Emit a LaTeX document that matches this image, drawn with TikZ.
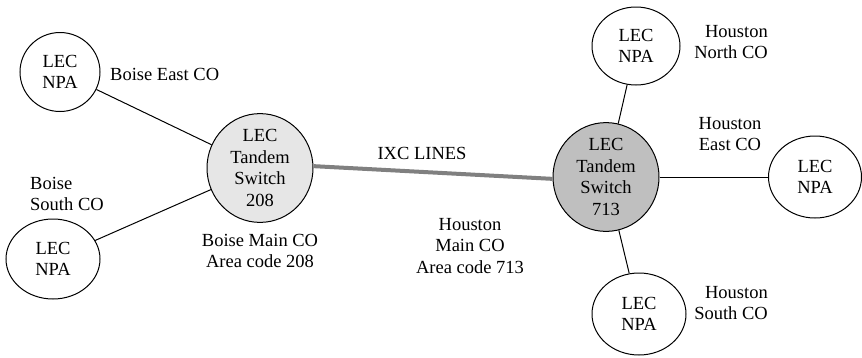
\documentclass[tikz,border=0pt]{standalone}
\usepackage{fontspec}
\setmainfont{Liberation Serif}
\usetikzlibrary{shapes.geometric}
\definecolor{boisefill}{HTML}{E6E6E6}
\definecolor{houfill}{HTML}{BFBFBF}
\definecolor{ixcgray}{HTML}{808080}
\begin{document}
\begin{tikzpicture}[x=1pt,y=-1pt,
  txt/.style={font=\fontsize{18.5}{21.5}\selectfont},
  npa/.style={ellipse,draw=black,line width=1pt,inner sep=0pt,align=center,txt},
  tandem/.style={ellipse,draw=black,line width=1pt,inner sep=0pt,align=center,txt},
  lbl/.style={inner sep=0pt,txt},
  link/.style={draw=black,line width=1pt},
  ixc/.style={draw=ixcgray,line width=4pt}
]
\useasboundingbox (0,0) rectangle (862,357);
% Boise
\node[npa,minimum width=80pt,minimum height=79pt] (bE) at (60,72) {LEC\\NPA};
\node[npa,minimum width=94pt,minimum height=80pt] (bS) at (53,259) {LEC\\NPA};
\node[tandem,fill=boisefill,minimum width=106pt,minimum height=101pt] (b208) at (260,168) {LEC\\Tandem\\Switch\\208};
% Houston
\node[tandem,fill=houfill,minimum width=106pt,minimum height=105pt] (h713) at (606,177) {LEC\\Tandem\\Switch\\713};
\node[npa,minimum width=88pt,minimum height=78pt] (hN) at (636,46) {LEC\\NPA};
\node[npa,minimum width=93pt,minimum height=82pt] (hE) at (815,177) {LEC\\NPA};
\node[npa,minimum width=94pt,minimum height=82pt] (hS) at (639,314) {LEC\\NPA};
% connectors
\draw[link] (bE) -- (b208);
\draw[link] (bS) -- (b208);
\draw[ixc] (b208.2) -- (h713.182);
\draw[link] (h713) -- (hN);
\draw[link] (h713) -- (hE);
\draw[link] (h713) -- (hS);
% labels
\node[lbl,anchor=west] (lbE) at (110,74) {Boise East CO};
\node[lbl,anchor=west,align=left] (lbS) at (30,194) {Boise\\South CO};
\node[lbl,align=center] (lbM) at (260,251) {Boise Main CO\\Area code 208};
\node[lbl] (lixc) at (422,153) {IXC LINES};
\node[lbl,align=center] (lhM) at (470,246) {Houston\\Main CO\\Area code 713};
\node[lbl,anchor=east,align=right] (lhN) at (768,42) {Houston\\North CO};
\node[lbl,align=center] (lhE) at (730,134) {Houston\\East CO};
\node[lbl,anchor=east,align=right] (lhS) at (768,303) {Houston\\South CO};
\end{tikzpicture}
\end{document}
